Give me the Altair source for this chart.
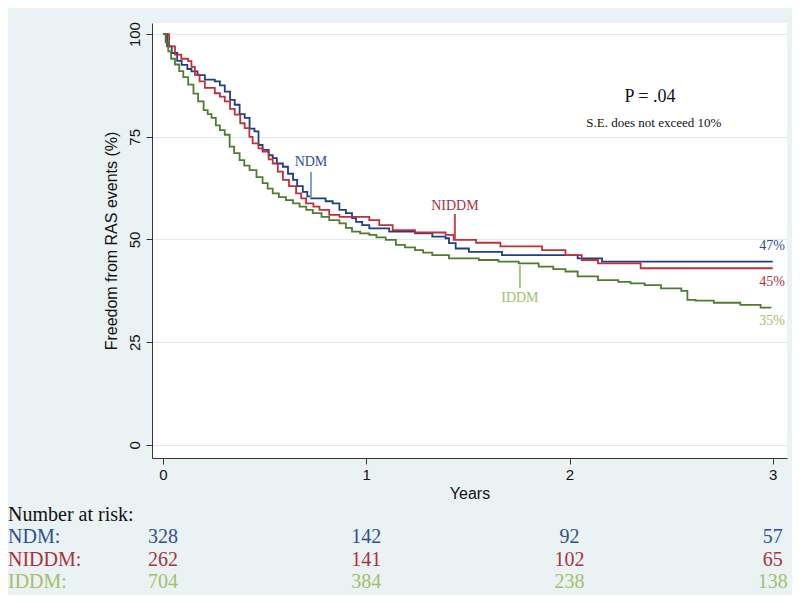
import altair as alt
import pandas as pd

# ---- data ----
groups = ["NDM", "NIDDM", "IDDM"]
line_colors = ["#1f3e86", "#c0303a", "#4f7d2e"]
text_colors = ["#2f4f94", "#a8323e", "#a3c06a"]

ndm_t = [0, 0.02, 0.043, 0.07, 0.092, 0.12, 0.14, 0.17, 0.206, 0.255, 0.28, 0.304, 0.33, 0.353,
         0.377, 0.402, 0.426, 0.45, 0.47, 0.49, 0.52, 0.54, 0.56, 0.59, 0.615, 0.64, 0.66, 0.688,
         0.71, 0.729, 0.80, 0.835, 0.868, 0.9, 0.93, 0.95, 0.98, 1.015, 1.113, 1.24, 1.325, 1.39,
         1.407, 1.44, 1.505, 1.668, 2.04, 2.16, 3.0]
ndm_s = [100, 97, 95.4, 93.5, 92.5, 91.5, 90.9, 90, 88.9, 88.5, 87.5, 86, 84, 82.8,
         80.5, 79.6, 77, 76.3, 73, 71.8, 70.5, 69.8, 68.5, 67.7, 66, 64.5, 63, 61.6,
         60.5, 60, 59.3, 58.8, 57.2, 56.4, 55.2, 54.3, 53.5, 52.7, 51.9, 51.5, 50.7, 50.3,
         49.1, 47.8, 47.0, 46.2, 45.4, 44.6, 44.6]

niddm_t = [0, 0.03, 0.059, 0.09, 0.124, 0.14, 0.157, 0.18, 0.206, 0.255, 0.28, 0.304, 0.33, 0.353,
           0.38, 0.402, 0.425, 0.441, 0.47, 0.49, 0.52, 0.54, 0.565, 0.59, 0.62, 0.655, 0.68, 0.704,
           0.74, 0.77, 0.818, 0.868, 1.015, 1.064, 1.13, 1.24, 1.39, 1.43, 1.54, 1.66, 1.865, 1.98,
           2.06, 2.14, 2.35, 3.0]
niddm_s = [100, 97, 95, 94, 93.4, 92, 90.1, 88.5, 86.9, 85.6, 84.8, 83.6, 81.8, 80.4,
           78.3, 77.1, 75, 73.4, 72.2, 71.4, 69.5, 68.5, 66.5, 64.5, 63, 61.2, 60, 58.8,
           58, 57.2, 56, 55.5, 54.7, 53.5, 52.3, 51.7, 51.1, 49.9, 49.2, 48.3, 47.4, 46.2,
           45, 44.2, 43, 43]

iddm_t = [0, 0.013, 0.026, 0.04, 0.059, 0.08, 0.1, 0.124, 0.15, 0.173, 0.2, 0.22, 0.239, 0.26,
          0.28, 0.304, 0.328, 0.35, 0.377, 0.4, 0.426, 0.46, 0.49, 0.515, 0.54, 0.57, 0.605, 0.64,
          0.672, 0.705, 0.737, 0.78, 0.818, 0.868, 0.9, 0.93, 0.97, 1.015, 1.05, 1.096, 1.146, 1.19,
          1.24, 1.28, 1.325, 1.407, 1.554, 1.65, 1.75, 1.848, 1.92, 1.98, 2.04, 2.14, 2.24, 2.3,
          2.37, 2.45, 2.55, 2.58, 2.62, 2.71, 2.84, 2.94, 2.99]
iddm_s = [100, 98, 95.8, 94, 92.6, 91, 89.5, 87.7, 85.5, 83.6, 81.5, 80.5, 79.6, 77.8,
          76.6, 75.5, 72.6, 71, 69.3, 68, 66.9, 65.2, 63.7, 62.4, 61.2, 60.3, 59.6, 58.8,
          58, 57.2, 56.4, 55.5, 54.7, 53.9, 52.8, 51.9, 51.5, 51.1, 50.5, 49.9, 48.7, 48.1,
          47.4, 46.8, 46.2, 45.4, 45, 44.6, 44.2, 43.4, 42.8, 42.2, 41, 40.1, 39.7, 39.3,
          38.9, 38.1, 37.5, 35.3, 35.1, 34.6, 34.1, 33.4, 33.3]

# curve pointer labels
ptr_label = ["NDM", "NIDDM", "IDDM"]
ptr_x = [0.728, 1.436, 1.756]
ptr_y1 = [66.4, 56.2, 43.8]
ptr_y2 = [60.1, 49.9, 38.2]
ptr_text_y = [68.9, 58.2, 35.8]
ptr_colors = ["#7ba0d0", "#c4464f", "#a8c47a"]

# end percentages
end_text = ["47%", "45%", "35%"]
end_y = [48.4, 39.7, 30.2]

# number at risk table
risk_years = [0, 1, 2, 3]
risk_ndm = [328, 142, 92, 57]
risk_niddm = [262, 141, 102, 65]
risk_iddm = [704, 384, 238, 138]

# ---- build tables ----
rows = []
for g, ts, ss in zip(groups, [ndm_t, niddm_t, iddm_t], [ndm_s, niddm_s, iddm_s]):
    for t, s in zip(ts, ss):
        rows.append({"group": g, "t": t, "s": s})
curves = pd.DataFrame(rows)

ptr = pd.DataFrame({"label": ptr_label, "x": ptr_x, "y1": ptr_y1, "y2": ptr_y2,
                    "ty": ptr_text_y})
ends = pd.DataFrame({"label": end_text, "y": end_y, "group": groups})

W, H = 635, 435
XDOM = [-0.054, 3.07]
YDOM = [-3.2, 102.7]
xs = alt.Scale(domain=XDOM, nice=False, zero=False)
ys = alt.Scale(domain=YDOM, nice=False, zero=False)
SANS = "Liberation Sans"
SERIF = "Liberation Serif"

color = alt.Color("group:N", scale=alt.Scale(domain=groups, range=line_colors), legend=None)

lines = alt.Chart(curves).mark_line(interpolate="step-after", strokeWidth=1.8).encode(
    x=alt.X("t:Q", scale=xs, axis=alt.Axis(
        values=[0, 1, 2, 3], title="Years", grid=False, tickSize=6, labelFont=SANS,
        labelFontSize=15, labelColor="#111", labelPadding=3, titleFont=SANS, titleFontSize=16,
        titleFontWeight="normal", titleColor="#111", titlePadding=3, domainColor="#333",
        tickColor="#333", format="d")),
    y=alt.Y("s:Q", scale=ys, axis=alt.Axis(
        values=[0, 25, 50, 75, 100], title="Freedom from RAS events (%)", grid=True,
        gridColor="#dbecf1", gridWidth=1, tickSize=6, labelFont=SANS, labelFontSize=15,
        labelColor="#111", labelAngle=270, labelAlign="center", labelBaseline="bottom",
        labelPadding=4, titleFont=SANS, titleFontSize=16, titleFontWeight="normal",
        titleColor="#111", titlePadding=8, domainColor="#333", tickColor="#333")),
    color=color,
    detail="group:N",
)

layers = [lines]

for i, g in enumerate(ptr_label):
    d = ptr[ptr["label"] == g]
    layers.append(alt.Chart(d).mark_rule(strokeWidth=2, color=ptr_colors[i]).encode(
        x=alt.X("x:Q", scale=xs), y=alt.Y("y1:Q", scale=ys), y2="y2:Q"))
    layers.append(alt.Chart(d).mark_text(font=SERIF, fontSize=14, color=text_colors[i],
                                         baseline="middle", align="center").encode(
        x=alt.X("x:Q", scale=xs), y=alt.Y("ty:Q", scale=ys), text="label:N"))

for i, g in enumerate(groups):
    d = ends[ends["group"] == g]
    layers.append(alt.Chart(d).mark_text(font=SERIF, fontSize=14, color=text_colors[i],
                                         align="right", baseline="middle").encode(
        x=alt.value(W - 2), y=alt.Y("y:Q", scale=ys), text="label:N"))

annot = pd.DataFrame({"txt": ["P = .04", "S.E. does not exceed 10%"],
                      "x": [2.396, 2.415], "y": [84.7, 78.3]})
layers.append(alt.Chart(annot.iloc[[0]]).mark_text(font=SERIF, fontSize=18, color="#111",
                                                   baseline="middle").encode(
    x=alt.X("x:Q", scale=xs), y=alt.Y("y:Q", scale=ys), text="txt:N"))
layers.append(alt.Chart(annot.iloc[[1]]).mark_text(font=SERIF, fontSize=13, color="#111",
                                                   baseline="middle").encode(
    x=alt.X("x:Q", scale=xs), y=alt.Y("y:Q", scale=ys), text="txt:N"))

# number at risk table (placed below the plot, in pixel rows)
TOP = 23
header = pd.DataFrame({"txt": ["Number at risk:"]})
layers.append(alt.Chart(header).mark_text(font=SERIF, fontSize=20, color="#111", align="left",
                                          baseline="middle").encode(
    x=alt.value(8 - 152), y=alt.value(515 - TOP), text="txt:N"))

row_y = [537, 560, 582]
for i, (g, vals) in enumerate(zip(groups, [risk_ndm, risk_niddm, risk_iddm])):
    lab = pd.DataFrame({"txt": [g + ":"]})
    layers.append(alt.Chart(lab).mark_text(font=SERIF, fontSize=20, color=text_colors[i],
                                           align="left", baseline="middle").encode(
        x=alt.value(8 - 152), y=alt.value(row_y[i] - TOP), text="txt:N"))
    nd = pd.DataFrame({"yr": risk_years, "n": vals})
    layers.append(alt.Chart(nd).mark_text(font=SERIF, fontSize=20, color=text_colors[i],
                                          align="center", baseline="middle").encode(
        x=alt.X("yr:Q", scale=xs), y=alt.value(row_y[i] - TOP), text="n:Q"))

chart = alt.layer(*layers).properties(
    width=W, height=H,
    padding={"left": 144, "top": 15, "right": 5, "bottom": 137},
    autosize=alt.AutoSizeParams(type="none"),
    background="#eaf2f4",
).configure_view(fill="white", stroke=None)

chart.save("out.html", embed_options={"renderer": "svg", "actions": False})
